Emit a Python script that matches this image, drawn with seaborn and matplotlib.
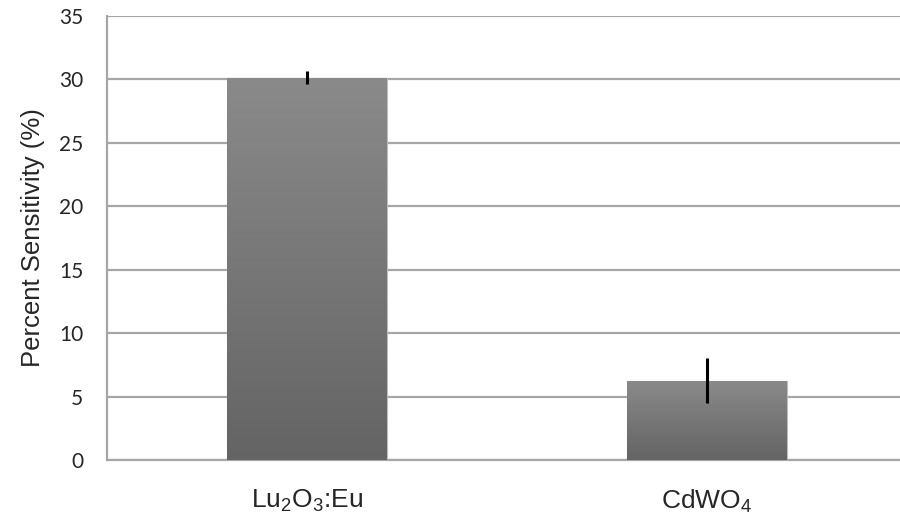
import numpy as np
import pandas as pd
import matplotlib
matplotlib.use("Agg")
import matplotlib.pyplot as plt
import seaborn as sns

materials = [r"Lu$_\mathregular{2}$O$_\mathregular{3}$:Eu", r"CdWO$_\mathregular{4}$"]
sensitivity = [30.15, 6.25]
errors = [0.48, 1.77]
y_ticks = [0, 5, 10, 15, 20, 25, 30, 35]

df = pd.DataFrame({"material": materials, "sensitivity": sensitivity})

sns.set_theme(style="white")
plt.rcParams["font.family"] = ["Liberation Sans", "DejaVu Sans"]
plt.rcParams["mathtext.fontset"] = "custom"
plt.rcParams["mathtext.rm"] = "Liberation Sans"

GRID = "#a6a6a6"

fig = plt.figure(figsize=(9, 5.25), dpi=100)
ax = fig.add_axes([107 / 900, 65 / 525, 800 / 900, 444 / 525])

sns.barplot(data=df, x="material", y="sensitivity", width=0.4,
            color="#777777", errorbar=None, ax=ax, zorder=2)

# gradient fill inside each bar (light top, dark bottom)
grad = np.linspace(0, 1, 256).reshape(-1, 1)
cmap = matplotlib.colors.LinearSegmentedColormap.from_list("g", ["#646464", "#8a8a8a"])
for patch in ax.patches:
    x0, y0 = patch.get_x(), patch.get_y()
    w, h = patch.get_width(), patch.get_height()
    im = ax.imshow(grad, cmap=cmap, aspect="auto", origin="lower",
                   extent=[x0, x0 + w, y0, y0 + h], zorder=3)
    im.set_clip_path(patch)
    patch.set_edgecolor("#bdbdbd")
    patch.set_linewidth(0.8)

ax.errorbar(range(len(materials)), sensitivity, yerr=errors, fmt="none",
            ecolor="black", elinewidth=2.2, capsize=0, zorder=5)

ax.set_xlim(-0.5, 1.5)
ax.set_ylim(0, 35)
ax.set_yticks(y_ticks)
ax.yaxis.grid(True, color=GRID, linewidth=1.6, zorder=0)
ax.set_axisbelow(True)

for side in ["top", "right"]:
    ax.spines[side].set_visible(False)
for side in ["left", "bottom"]:
    ax.spines[side].set_color(GRID)
    ax.spines[side].set_linewidth(1.6)

ax.tick_params(axis="y", which="major", length=7, width=1.6, color=GRID,
               labelsize=15, pad=10)
for lbl in ax.get_yticklabels():
    lbl.set_family(["Lato", "DejaVu Sans"])
ax.set_xticks([-0.5, 0.5, 1.5], minor=True)
ax.tick_params(axis="x", which="minor", length=6, width=1.6, color=GRID)
ax.tick_params(axis="x", which="major", length=0, labelsize=19, pad=20)

ax.set_xlabel("")
ax.set_ylabel("Percent Sensitivity (%)", fontsize=18.5, labelpad=10)

fig.savefig("out.png", dpi=100)
